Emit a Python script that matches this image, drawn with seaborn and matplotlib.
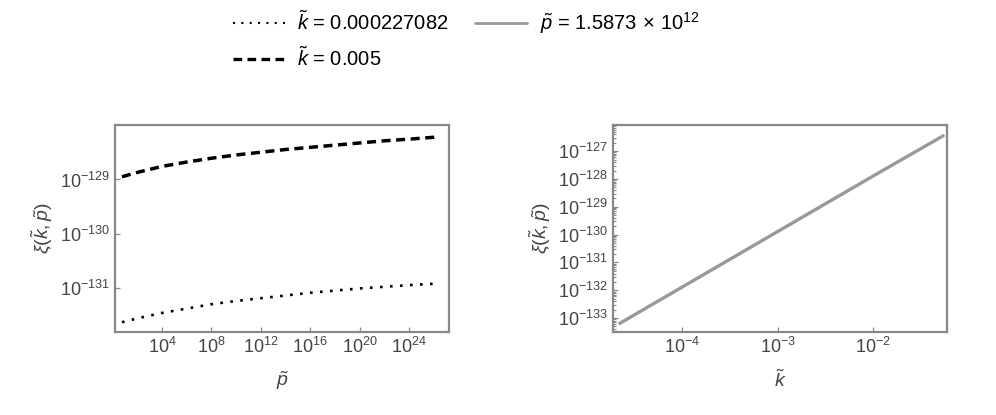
import numpy as np
import pandas as pd
import matplotlib
matplotlib.use("Agg")
import matplotlib.pyplot as plt
import matplotlib.ticker as mticker
from matplotlib.lines import Line2D
import seaborn as sns

# ---- data (log10 values) ----
log_p = [0.75, 2, 4, 6, 8, 10, 12, 14, 16, 18, 20, 22, 24, 26.3]
log_xi_k_small = [-131.62, -131.55, -131.45, -131.37, -131.29, -131.23, -131.18,
                  -131.13, -131.08, -131.04, -131.00, -130.97, -130.94, -130.91]
log_xi_k_large = [-128.95, -128.87, -128.76, -128.68, -128.61, -128.55, -128.50,
                  -128.45, -128.41, -128.37, -128.33, -128.29, -128.26, -128.22]
log_k = [-4.65, -4.0, -3.0, -2.0, -1.27]
log_xi_p_fixed = [-133.19, -131.89, -129.89, -127.89, -126.45]

label_k_small = r"$\tilde{k}$ = 0.000227082"
label_k_large = r"$\tilde{k}$ = 0.005"
label_p_fixed = r"$\tilde{p}$ = 1.5873$\,\times\,$10$^{12}$"

sns.set_style("ticks")
plt.rcParams["font.family"] = ["Liberation Sans", "DejaVu Sans"]
plt.rcParams["mathtext.fontset"] = "custom"
plt.rcParams["mathtext.rm"] = "Liberation Sans"
plt.rcParams["mathtext.it"] = "Liberation Sans:italic"
plt.rcParams["mathtext.bf"] = "Liberation Sans:bold"

frame_col = "#888888"
text_col = "#444444"

df_left = pd.DataFrame({
    "p": np.power(10.0, np.concatenate([log_p, log_p])),
    "xi": np.power(10.0, np.concatenate([log_xi_k_small, log_xi_k_large])),
    "series": [label_k_small] * len(log_p) + [label_k_large] * len(log_p),
})
df_right = pd.DataFrame({
    "k": np.power(10.0, log_k),
    "xi": np.power(10.0, log_xi_p_fixed),
})

fig = plt.figure(figsize=(9.96, 4.15), dpi=100)
ax1 = fig.add_axes([0.1155, 0.2, 0.3353, 0.4988])
ax2 = fig.add_axes([0.6155, 0.2, 0.3353, 0.4988])

dotted = (0, (1.0, 2.8))
dashed = (0, (2.6, 1.6))

sns.lineplot(data=df_left[df_left.series == label_k_small], x="p", y="xi",
             ax=ax1, color="black", lw=1.9, linestyle=dotted, legend=False)
sns.lineplot(data=df_left[df_left.series == label_k_large], x="p", y="xi",
             ax=ax1, color="black", lw=2.5, linestyle=dashed, legend=False)
sns.lineplot(data=df_right, x="k", y="xi", ax=ax2, color="#999999", lw=2.4,
             legend=False)

for ax in (ax1, ax2):
    ax.set_xscale("log")
    ax.set_yscale("log")
    for s in ax.spines.values():
        s.set_visible(True)
        s.set_color(frame_col)
        s.set_linewidth(1.6)
    ax.tick_params(which="both", direction="in", color=frame_col,
                   labelcolor=text_col, labelsize=13, top=False, right=False)
    ax.tick_params(which="major", length=3.5, width=0.9)
    ax.tick_params(which="minor", length=2.5, width=0.8)

ax1.set_xlim(10 ** 0.19, 10 ** 27.24)
ax1.set_ylim(10 ** -131.8, 10 ** -128.0)
ax1.xaxis.set_major_locator(mticker.FixedLocator([1e4, 1e8, 1e12, 1e16, 1e20, 1e24]))
ax1.xaxis.set_minor_locator(mticker.NullLocator())
ax1.yaxis.set_major_locator(mticker.FixedLocator([1e-131, 1e-130, 1e-129]))
ax1.yaxis.set_minor_locator(mticker.NullLocator())
ax1.xaxis.set_major_formatter(mticker.LogFormatterSciNotation())
ax1.yaxis.set_major_formatter(mticker.LogFormatterSciNotation())

ax2.set_xlim(10 ** -4.72, 10 ** -1.23)
ax2.set_ylim(10 ** -133.5, 10 ** -126.06)
ax2.xaxis.set_major_locator(mticker.FixedLocator([1e-4, 1e-3, 1e-2]))
ax2.xaxis.set_minor_locator(mticker.NullLocator())
ax2.yaxis.set_major_locator(mticker.FixedLocator([10.0 ** e for e in range(-133, -126)]))
minor_y = [m * 10.0 ** e for e in range(-134, -125) for m in range(2, 10)]
ax2.yaxis.set_minor_locator(mticker.FixedLocator(minor_y))
ax2.yaxis.set_minor_formatter(mticker.NullFormatter())
ax2.xaxis.set_major_formatter(mticker.LogFormatterSciNotation())
ax2.yaxis.set_major_formatter(mticker.LogFormatterSciNotation())

ylab = r"$\xi(\tilde{k},\tilde{p})$"
ax1.set_xlabel(r"$\tilde{p}$", color=text_col, fontsize=14, labelpad=9)
ax1.set_ylabel(ylab, color=text_col, fontsize=14, labelpad=4)
ax2.set_xlabel(r"$\tilde{k}$", color=text_col, fontsize=14, labelpad=9)
ax2.set_ylabel(ylab, color=text_col, fontsize=14, labelpad=4)

handles = [
    Line2D([], [], color="black", lw=1.5, linestyle=(0, (1.0, 3.0))),
    Line2D([], [], color="black", lw=2.4, linestyle=(0, (2.6, 1.6))),
    Line2D([], [], color="#999999", lw=2.0),
]
labels = [label_k_small, label_k_large, label_p_fixed]
fig.legend(handles, labels, ncol=2, loc="upper center", bbox_to_anchor=(0.468, 1.02),
           frameon=False, fontsize=14.5, handlelength=2.6, columnspacing=1.3,
           labelspacing=0.6, handletextpad=0.6, labelcolor="black")

fig.savefig("out.png", dpi=100)
